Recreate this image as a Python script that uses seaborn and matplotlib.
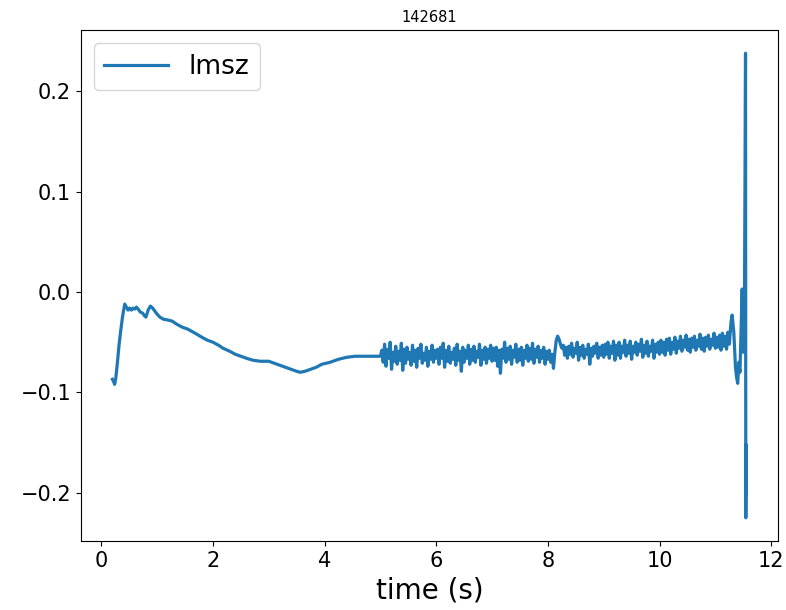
import matplotlib
matplotlib.use("Agg")
import matplotlib.pyplot as plt
import seaborn as sns
import pandas as pd

# smooth early part
t_smooth = [0.20, 0.22, 0.24, 0.26, 0.29, 0.32, 0.35, 0.38, 0.42, 0.45, 0.48, 0.51, 0.54, 0.57,
            0.60, 0.63, 0.66, 0.70, 0.74, 0.78, 0.80, 0.84, 0.88, 0.92, 0.96, 1.00, 1.05, 1.11,
            1.20, 1.27, 1.35, 1.45, 1.55, 1.68, 1.80, 1.90, 2.00, 2.10, 2.18, 2.30, 2.40, 2.50,
            2.60, 2.72, 2.85, 3.00, 3.10, 3.20, 3.30, 3.40, 3.50, 3.56, 3.65, 3.75, 3.85, 3.95,
            4.10, 4.25, 4.40, 4.55, 4.70, 4.85, 5.00]
v_smooth = [-0.087, -0.089, -0.092, -0.086, -0.070, -0.052, -0.038, -0.025, -0.012, -0.015,
            -0.018, -0.016, -0.018, -0.016, -0.017, -0.015, -0.017, -0.020, -0.021, -0.024,
            -0.025, -0.018, -0.014, -0.016, -0.019, -0.022, -0.025, -0.027, -0.028, -0.029,
            -0.032, -0.035, -0.037, -0.041, -0.045, -0.048, -0.050, -0.053, -0.056, -0.059,
            -0.062, -0.064, -0.066, -0.068, -0.069, -0.069, -0.071, -0.073, -0.075, -0.077,
            -0.079, -0.080, -0.079, -0.077, -0.075, -0.072, -0.070, -0.067, -0.065, -0.064,
            -0.064, -0.064, -0.064]

# oscillating middle part
t_noisy = [
    5.025, 5.050, 5.075, 5.100, 5.125, 5.150, 5.175, 5.200, 5.225, 5.250,
    5.275, 5.300, 5.325, 5.350, 5.375, 5.400, 5.425, 5.450, 5.475, 5.500,
    5.525, 5.550, 5.575, 5.600, 5.625, 5.650, 5.675, 5.700, 5.725, 5.750,
    5.775, 5.800, 5.825, 5.850, 5.875, 5.900, 5.925, 5.950, 5.975, 6.000,
    6.025, 6.050, 6.075, 6.100, 6.125, 6.150, 6.175, 6.200, 6.225, 6.250,
    6.275, 6.300, 6.325, 6.350, 6.375, 6.400, 6.425, 6.450, 6.475, 6.500,
    6.525, 6.550, 6.575, 6.600, 6.625, 6.650, 6.675, 6.700, 6.725, 6.750,
    6.775, 6.800, 6.825, 6.850, 6.875, 6.900, 6.925, 6.950, 6.975, 7.000,
    7.025, 7.050, 7.075, 7.100, 7.125, 7.150, 7.175, 7.200, 7.225, 7.250,
    7.275, 7.300, 7.325, 7.350, 7.375, 7.400, 7.425, 7.450, 7.475, 7.500,
    7.525, 7.550, 7.575, 7.600, 7.625, 7.650, 7.675, 7.700, 7.725, 7.750,
    7.775, 7.800, 7.825, 7.850, 7.875, 7.900, 7.925, 7.950, 7.975, 8.000,
    8.025, 8.050, 8.075, 8.100, 8.125, 8.150, 8.175, 8.200, 8.225, 8.250,
    8.275, 8.300, 8.325, 8.350, 8.375, 8.400, 8.425, 8.450, 8.475, 8.500,
    8.525, 8.550, 8.575, 8.600, 8.625, 8.650, 8.675, 8.700, 8.725, 8.750,
    8.775, 8.800, 8.825, 8.850, 8.875, 8.900, 8.925, 8.950, 8.975, 9.000,
    9.025, 9.050, 9.075, 9.100, 9.125, 9.150, 9.175, 9.200, 9.225, 9.250,
    9.275, 9.300, 9.325, 9.350, 9.375, 9.400, 9.425, 9.450, 9.475, 9.500,
    9.525, 9.550, 9.575, 9.600, 9.625, 9.650, 9.675, 9.700, 9.725, 9.750,
    9.775, 9.800, 9.825, 9.850, 9.875, 9.900, 9.925, 9.950, 9.975, 10.000,
    10.025, 10.050, 10.075, 10.100, 10.125, 10.150, 10.175, 10.200, 10.225, 10.250,
    10.275, 10.300, 10.325, 10.350, 10.375, 10.400, 10.425, 10.450, 10.475, 10.500,
    10.525, 10.550, 10.575, 10.600, 10.625, 10.650, 10.675, 10.700, 10.725, 10.750,
    10.775, 10.800, 10.825, 10.850, 10.875, 10.900, 10.925, 10.950, 10.975, 11.000,
    11.025, 11.050, 11.075, 11.100, 11.125, 11.150, 11.175, 11.200, 11.225, 11.250,
]
v_noisy = [
    -0.058, -0.070, -0.052, -0.074, -0.057, -0.066, -0.050, -0.077, -0.060, -0.069,
    -0.054, -0.072, -0.059, -0.068, -0.051, -0.078, -0.057, -0.071, -0.055, -0.067,
    -0.060, -0.073, -0.053, -0.069, -0.058, -0.075, -0.056, -0.066, -0.052, -0.071,
    -0.061, -0.068, -0.055, -0.074, -0.059, -0.067, -0.053, -0.070, -0.058, -0.066,
    -0.057, -0.072, -0.055, -0.066, -0.051, -0.075, -0.058, -0.069, -0.054, -0.071,
    -0.060, -0.067, -0.056, -0.073, -0.052, -0.068, -0.059, -0.079, -0.055, -0.070,
    -0.058, -0.066, -0.053, -0.072, -0.057, -0.068, -0.054, -0.070, -0.059, -0.065,
    -0.052, -0.073, -0.058, -0.067, -0.055, -0.071, -0.057, -0.066, -0.053, -0.069,
    -0.056, -0.068, -0.055, -0.074, -0.058, -0.081, -0.057, -0.066, -0.050, -0.070,
    -0.056, -0.067, -0.054, -0.072, -0.058, -0.065, -0.052, -0.070, -0.057, -0.068,
    -0.055, -0.073, -0.058, -0.066, -0.053, -0.069, -0.056, -0.067, -0.051, -0.071,
    -0.057, -0.065, -0.054, -0.070, -0.058, -0.066, -0.055, -0.072, -0.059, -0.067,
    -0.058, -0.070, -0.062, -0.076, -0.060, -0.048, -0.044, -0.047, -0.052, -0.056,
    -0.053, -0.063, -0.055, -0.066, -0.054, -0.062, -0.051, -0.065, -0.056, -0.061,
    -0.050, -0.068, -0.055, -0.063, -0.053, -0.066, -0.057, -0.062, -0.052, -0.072,
    -0.056, -0.064, -0.054, -0.061, -0.051, -0.066, -0.055, -0.063, -0.053, -0.065,
    -0.052, -0.062, -0.050, -0.066, -0.054, -0.061, -0.049, -0.068, -0.053, -0.063,
    -0.050, -0.066, -0.054, -0.060, -0.048, -0.064, -0.053, -0.061, -0.049, -0.067,
    -0.054, -0.060, -0.050, -0.063, -0.052, -0.059, -0.047, -0.065, -0.053, -0.061,
    -0.049, -0.064, -0.054, -0.059, -0.048, -0.066, -0.052, -0.060, -0.050, -0.062,
    -0.048, -0.060, -0.050, -0.063, -0.047, -0.058, -0.046, -0.062, -0.050, -0.057,
    -0.045, -0.061, -0.049, -0.056, -0.044, -0.059, -0.048, -0.055, -0.043, -0.058,
    -0.047, -0.060, -0.046, -0.055, -0.044, -0.058, -0.048, -0.054, -0.042, -0.057,
    -0.046, -0.059, -0.045, -0.054, -0.043, -0.057, -0.047, -0.053, -0.041, -0.056,
    -0.045, -0.055, -0.043, -0.058, -0.041, -0.054, -0.044, -0.057, -0.040, -0.052,
]

# final burst
t_end = [11.28, 11.30, 11.33, 11.36, 11.38, 11.40, 11.42, 11.44, 11.46, 11.48, 11.50, 11.52,
         11.54, 11.545, 11.55, 11.555]
v_end = [-0.030, -0.023, -0.040, -0.075, -0.085, -0.091, -0.070, -0.080, -0.040, 0.003,
         -0.060, -0.030, 0.238, -0.225, -0.152, -0.200]

title = "142681"
series_name = "lmsz"

df = pd.DataFrame({
    "time": t_smooth + t_noisy + t_end,
    "value": v_smooth + v_noisy + v_end,
})

fig = plt.figure(figsize=(7.86, 6.10), dpi=100)
ax = fig.add_axes([0.1027, 0.1131, 0.8872, 0.8377])
sns.lineplot(data=df, x="time", y="value", ax=ax, color="#1f77b4", linewidth=2.3,
             sort=False, estimator=None, label=series_name)
ax.set_title(title, fontsize=10.5)
ax.set_xlabel("time (s)", fontsize=20)
ax.set_ylabel("")
ax.tick_params(labelsize=15)
ax.set_xticks([0, 2, 4, 6, 8, 10, 12])
ax.set_yticks([-0.2, -0.1, 0.0, 0.1, 0.2])
ax.legend(loc="upper left", fontsize=19, handlelength=2.4)
fig.savefig("out.png", dpi=100)
